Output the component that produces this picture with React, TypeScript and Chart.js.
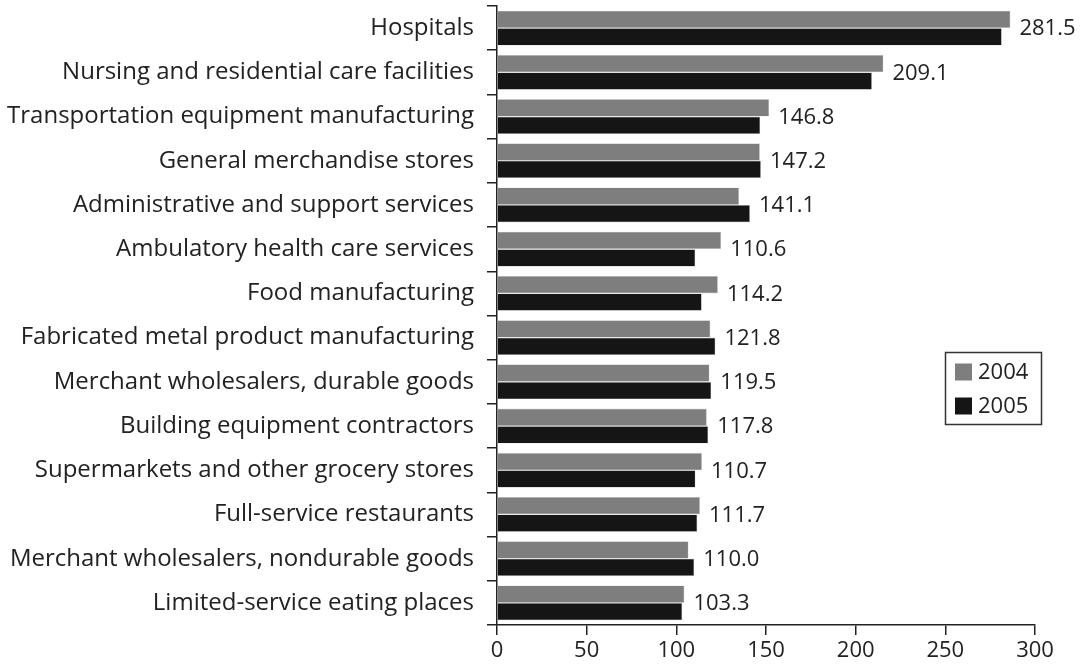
import React, { useEffect, useRef } from "react";
import { Chart, registerables } from "chart.js";

Chart.register(...registerables);

const categories = [
  "Hospitals",
  "Nursing and residential care facilities",
  "Transportation equipment manufacturing",
  "General merchandise stores",
  "Administrative and support services",
  "Ambulatory health care services",
  "Food manufacturing",
  "Fabricated metal product manufacturing",
  "Merchant wholesalers, durable goods",
  "Building equipment contractors",
  "Supermarkets and other grocery stores",
  "Full-service restaurants",
  "Merchant wholesalers, nondurable goods",
  "Limited-service eating places",
];

const values2004 = [286.3, 215.5, 151.8, 146.6, 135.0, 125.0, 123.2, 119.0, 118.5, 117.0, 114.3, 113.2, 106.8, 104.5];
const values2005 = [281.5, 209.1, 146.8, 147.2, 141.1, 110.6, 114.2, 121.8, 119.5, 117.8, 110.7, 111.7, 110.0, 103.3];
const valueLabels = ["281.5", "209.1", "146.8", "147.2", "141.1", "110.6", "114.2", "121.8", "119.5", "117.8", "110.7", "111.7", "110.0", "103.3"];
const seriesNames = ["2004", "2005"];
const seriesColors = ["#7e7e7e", "#151515"];
const xMin = 0;
const xMax = 300;
const xStep = 50;

const FONT = "'Open Sans', 'Noto Sans', sans-serif";
const INK = "#222222";

const valueLabelPlugin = {
  id: "valueLabels",
  afterDatasetsDraw(chart: any) {
    const ctx = chart.ctx;
    const m0 = chart.getDatasetMeta(0);
    const m1 = chart.getDatasetMeta(1);
    const yScale = chart.scales.y;
    ctx.save();
    ctx.font = `22px ${FONT}`;
    ctx.fillStyle = INK;
    ctx.textAlign = "left";
    ctx.textBaseline = "middle";
    categories.forEach((_, i) => {
      const xEnd = Math.max(m0.data[i].x, m1.data[i].x);
      const y = yScale.getPixelForValue(i);
      ctx.fillText(valueLabels[i], xEnd + 9, y + 1);
    });
    ctx.restore();
  },
};

const legendBoxPlugin = {
  id: "legendBox",
  afterDraw(chart: any) {
    const ctx = chart.ctx;
    ctx.save();
    ctx.strokeStyle = "#333";
    ctx.lineWidth = 1.5;
    ctx.strokeRect(945.5, 352.5, 96, 72);
    ctx.font = `22px ${FONT}`;
    ctx.textAlign = "left";
    ctx.textBaseline = "middle";
    const rows = [372, 406];
    seriesNames.forEach((name, i) => {
      ctx.fillStyle = seriesColors[i];
      ctx.fillRect(955, rows[i] - 8.5, 17, 17);
      ctx.fillStyle = INK;
      ctx.fillText(name, 978, rows[i] + 1);
    });
    ctx.restore();
  },
};

export default function App() {
  const canvasRef = useRef<HTMLCanvasElement | null>(null);

  useEffect(() => {
    if (!canvasRef.current) return;
    const chart = new Chart(canvasRef.current, {
      type: "bar",
      data: {
        labels: categories,
        datasets: [
          {
            label: seriesNames[0],
            data: values2004,
            backgroundColor: seriesColors[0],
            borderColor: "#cfcfcf",
            borderWidth: 0.6,
            categoryPercentage: 0.79,
            barPercentage: 1.0,
          },
          {
            label: seriesNames[1],
            data: values2005,
            backgroundColor: seriesColors[1],
            borderColor: "#cfcfcf",
            borderWidth: 0.6,
            categoryPercentage: 0.79,
            barPercentage: 1.0,
          },
        ],
      },
      options: {
        indexAxis: "y",
        responsive: false,
        animation: false,
        layout: { padding: { top: 6, right: 45, left: 0, bottom: 0 } },
        plugins: {
          legend: { display: false },
          tooltip: { enabled: false },
        },
        scales: {
          x: {
            type: "linear",
            min: xMin,
            max: xMax,
            ticks: {
              stepSize: xStep,
              font: { family: FONT, size: 22 },
              color: INK,
              padding: 3,
            },
            grid: {
              drawOnChartArea: false,
              drawTicks: true,
              tickLength: 10,
              color: INK,
              lineWidth: 1.5,
            },
            border: { display: true, color: INK, width: 1.5 },
            afterFit: (s: any) => {
              s.height = 41;
              s.paddingLeft = 0;
              s.paddingRight = 0;
            },
          },
          y: {
            type: "category",
            ticks: {
              font: { family: FONT, size: 24 },
              color: INK,
              padding: 13,
              autoSkip: false,
            },
            grid: {
              offset: true,
              drawOnChartArea: false,
              drawTicks: true,
              tickLength: 10,
              color: INK,
              lineWidth: 1.5,
            },
            border: { display: true, color: INK, width: 1.5 },
            afterFit: (s: any) => {
              s.width = 497;
              s.paddingTop = 0;
              s.paddingBottom = 0;
            },
          },
        },
      },
      plugins: [valueLabelPlugin, legendBoxPlugin],
    });
    return () => chart.destroy();
  }, []);

  return (
    <div style={{ position: "absolute", left: 0, top: 0, width: 1080, height: 666, background: "#fff" }}>
      <canvas ref={canvasRef} width={1080} height={666} />
    </div>
  );
}
